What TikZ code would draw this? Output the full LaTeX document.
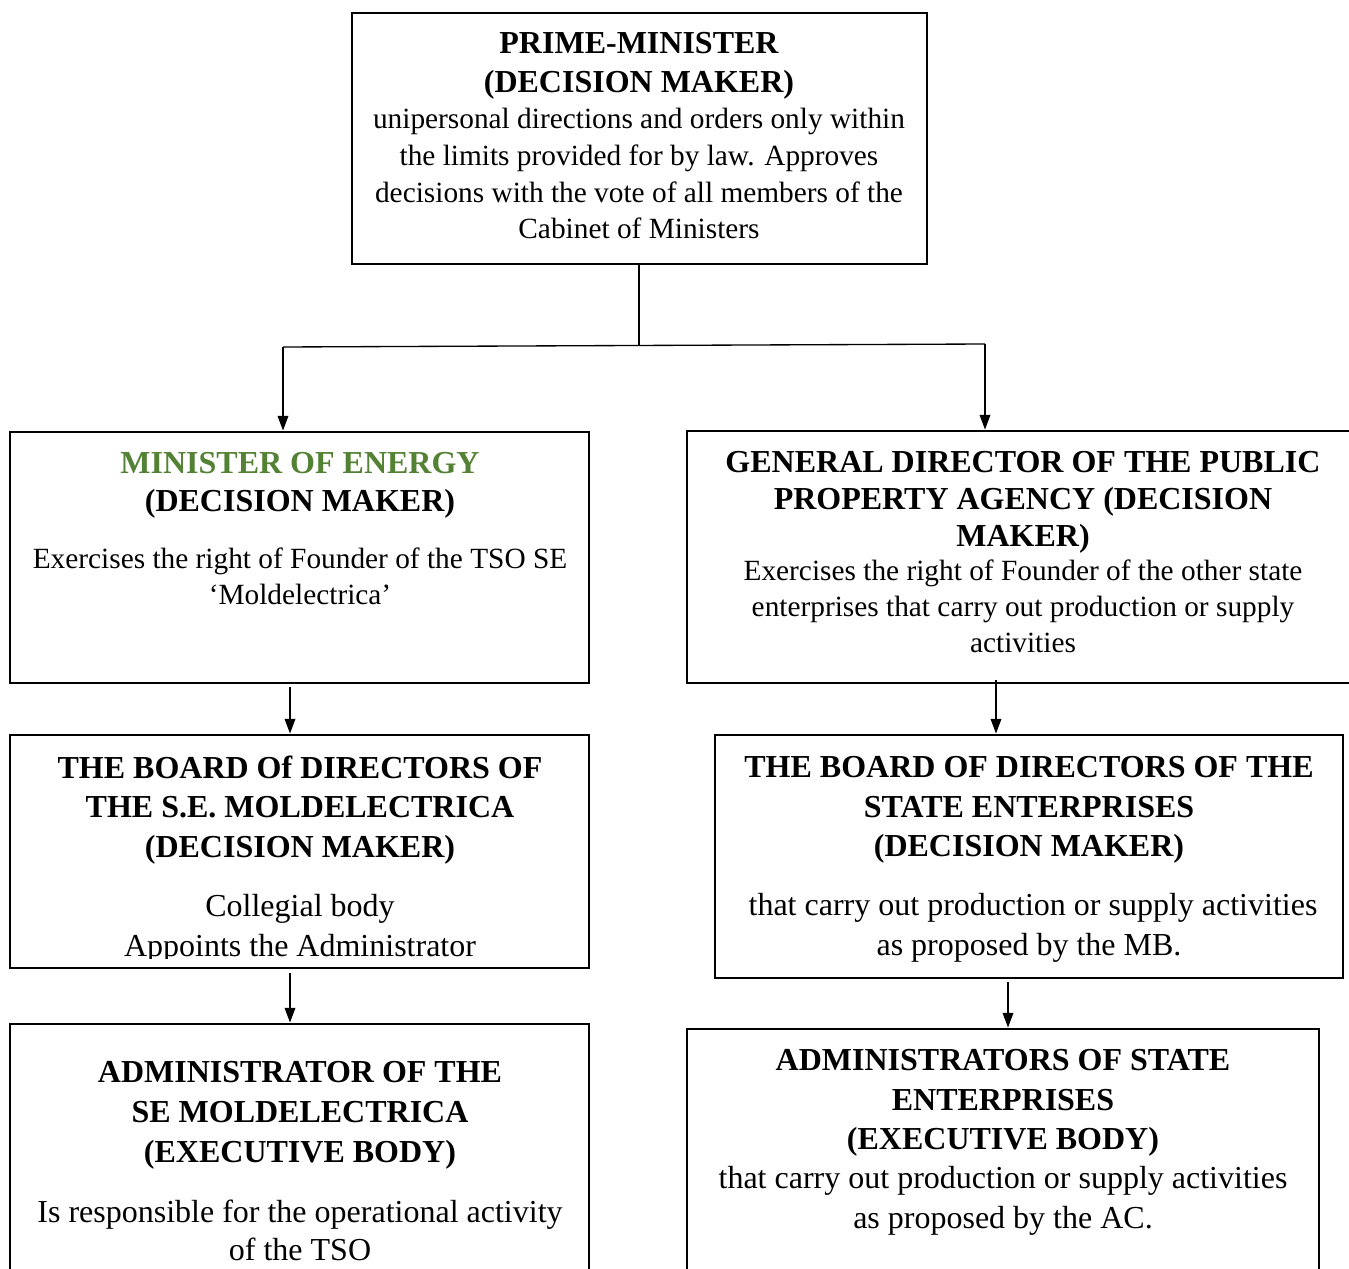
\documentclass[tikz,border=0pt]{standalone}
\usepackage{fontspec}
\setmainfont{Liberation Serif}
\usetikzlibrary{arrows.meta,fit}
\definecolor{mingreen}{RGB}{84,130,53}
\newcommand{\ttlfont}{\fontsize{24pt}{29pt}\selectfont\bfseries}
\newcommand{\bodyfont}{\fontsize{22pt}{27pt}\selectfont}
\newcommand{\bodyLfont}{\fontsize{24pt}{29pt}\selectfont}
\tikzset{
  box/.style={draw, line width=2.2pt, inner sep=0pt, rectangle},
  ttl/.style={inner sep=0pt, anchor=base, font=\ttlfont},
  bdy/.style={inner sep=0pt, anchor=base, font=\bodyfont},
  bdyL/.style={inner sep=0pt, anchor=base, font=\bodyLfont},
  conn/.style={line width=1pt},
  arr/.style={line width=1pt, -{Triangle[length=11pt,width=8pt]}}
}
\begin{document}
\begin{tikzpicture}[x=0.75pt,y=-0.75pt]
\clip (0,0) rectangle (1349,1269);
\fill[white] (0,0) rectangle (1349,1269);
% boxes
\node[box, fit={(352,13) (927,264)}] (pm) {};
\node[box, fit={(10,432) (589,683)}] (me) {};
\node[box, fit={(687,431) (1360,683)}] (gd) {};
\node[box, fit={(10,735) (589,968)}] (lb) {};
\node[box, fit={(715,735) (1343,978)}] (rb) {};
\node[box, fit={(10,1024) (589,1300)}] (la) {};
\node[box, fit={(687,1029) (1319,1300)}] (ra) {};
% prime minister
\node[ttl] (pm1) at (639,54) {PRIME-MINISTER};
\node[ttl] (pm2) at (639,93) {(DECISION MAKER)};
\node[bdy] (pm3) at (639,129) {unipersonal directions and orders only within};
\node[bdy] (pm4) at (639,166) {the limits provided for by law. Approves};
\node[bdy] (pm5) at (639,203) {decisions with the vote of all members of the};
\node[bdy] (pm6) at (639,239) {Cabinet of Ministers};
% minister of energy
\node[ttl, text=mingreen] (me1) at (300,473) {MINISTER OF ENERGY};
\node[ttl] (me2) at (300,511) {(DECISION MAKER)};
\node[bdy] (me3) at (300,568) {Exercises the right of Founder of the TSO SE};
\node[bdy] (me4) at (300,604) {‘Moldelectrica’};
% general director
\node[ttl] (gd1) at (1023,472) {GENERAL DIRECTOR OF THE PUBLIC};
\node[ttl] (gd2) at (1023,509) {PROPERTY AGENCY (DECISION};
\node[ttl] (gd3) at (1023,546) {MAKER)};
\node[bdy] (gd4) at (1023,580) {Exercises the right of Founder of the other state};
\node[bdy] (gd5) at (1023,616) {enterprises that carry out production or supply};
\node[bdy] (gd6) at (1023,652) {activities};
% left board
\node[ttl] (lb1) at (300,778) {THE BOARD Of DIRECTORS OF};
\node[ttl] (lb2) at (300,817) {THE S.E. MOLDELECTRICA};
\node[ttl] (lb3) at (300,857) {(DECISION MAKER)};
\node[bdyL] (lb4) at (300,916) {Collegial body};
\begin{scope}
\clip (10,900) rectangle (589,958);
\node[bdyL] (lb5) at (300,956) {Appoints the Administrator};
\end{scope}
% right board
\node[ttl] (rb1) at (1029,777) {THE BOARD OF DIRECTORS OF THE};
\node[ttl] (rb2) at (1029,817) {STATE ENTERPRISES};
\node[ttl] (rb3) at (1029,856) {(DECISION MAKER)};
\node[bdyL] (rb4) at (1033,915) {that carry out production or supply activities};
\node[bdyL] (rb5) at (1029,955) {as proposed by the MB.};
% left administrator
\node[ttl] (la1) at (300,1082) {ADMINISTRATOR OF THE};
\node[ttl] (la2) at (300,1122) {SE MOLDELECTRICA};
\node[ttl] (la3) at (300,1162) {(EXECUTIVE BODY)};
\node[bdyL] (la4) at (300,1222) {Is responsible for the operational activity};
\node[bdyL] (la5) at (300,1260) {of the TSO};
% right administrators
\node[ttl] (ra1) at (1003,1070) {ADMINISTRATORS OF STATE};
\node[ttl] (ra2) at (1003,1110) {ENTERPRISES};
\node[ttl] (ra3) at (1003,1149) {(EXECUTIVE BODY)};
\node[bdyL] (ra4) at (1003,1188) {that carry out production or supply activities};
\node[bdyL] (ra5) at (1003,1228) {as proposed by the AC.};
% connectors
\coordinate (jm) at (639,346);
\coordinate (jl) at (283,347);
\coordinate (jr) at (985,344);
\draw[conn] (pm.south -| jm) -- (jm);
\draw[conn] (jl) -- (jr);
\draw[arr] (jl) -- (me.north -| jl);
\draw[arr] (jr) -- (gd.north -| jr);
\coordinate (c1) at (290,0);
\draw[arr] ([yshift=-2pt]me.south -| c1) -- (lb.north -| c1);
\draw[arr] ([yshift=-3pt]lb.south -| c1) -- (la.north -| c1);
\coordinate (c2) at (996,0);
\draw[arr] ([yshift=3pt]gd.south -| c2) -- (rb.north -| c2);
\coordinate (c3) at (1008,0);
\draw[arr] ([yshift=-2pt]rb.south -| c3) -- (ra.north -| c3);
\end{tikzpicture}
\end{document}
